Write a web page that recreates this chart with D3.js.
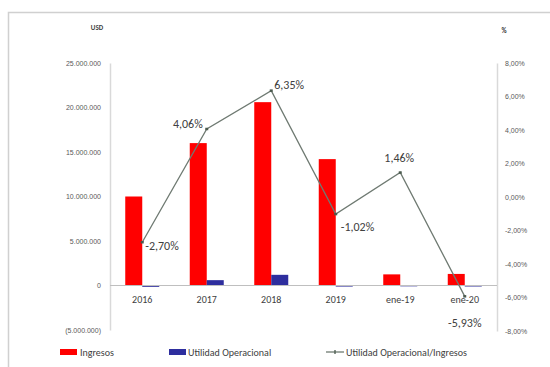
<!DOCTYPE html>
<html>
<head>
<meta charset="utf-8">
<script src="https://cdn.jsdelivr.net/npm/d3@7"></script>
<style>
  html, body { margin: 0; padding: 0; background: #fff; }
  svg { display: block; font-family: Calibri, "Liberation Sans", "Open Sans", sans-serif; }
</style>
</head>
<body>
<svg id="chart" width="550" height="367"></svg>
<script>
// Categories and series
const categories = ["2016", "2017", "2018", "2019", "ene-19", "ene-20"];
const ingresos = [10000000, 16000000, 20600000, 14200000, 1250000, 1300000];
const utilidad = [-150000, 600000, 1200000, -120000, 20000, -80000];
const margen = [-2.70, 4.06, 6.35, -1.02, 1.46, -5.93];
const leftTicks = [25000000, 20000000, 15000000, 10000000, 5000000, 0, -5000000];
const rightTicks = [8, 6, 4, 2, 0, -2, -4, -6, -8];

const svg = d3.select("#chart");

// Spanish-style number locale with an ASCII hyphen for negatives
const es = d3.formatLocale({ decimal: ",", thousands: ".", grouping: [3], currency: ["$", ""], minus: "-" });

// Outer frame
svg.append("rect").attr("x", 8.5).attr("y", 12.5).attr("width", 560).attr("height", 360)
  .attr("fill", "none").attr("stroke", "#d0d0d0").attr("stroke-width", 1.5);

const left = 110, right = 497;
const x = d3.scaleBand().domain(categories).range([left, right]);
const yL = d3.scaleLinear().domain([-5000000, 25000000]).range([330, 63]);
const yR = d3.scaleLinear().domain([-8, 8]).range([331, 63]);

const fmtN = v => v === 0 ? "0" : (v < 0 ? "(" + es.format(",")(-v) + ")" : es.format(",")(v));
const fmtP = v => es.format(".2f")(v) + "%";

// Left axis
const axL = svg.append("g").attr("transform", `translate(${left},0)`)
  .call(d3.axisLeft(yL).tickValues(leftTicks).tickFormat(fmtN).tickSize(0).tickPadding(9));
axL.select(".domain").attr("stroke", "#d9d9d9").attr("stroke-width", 1.5);
axL.selectAll("text").attr("fill", "#595959").style("font-size", "7px");

// Right axis
const axR = svg.append("g").attr("transform", `translate(${right},0)`)
  .call(d3.axisRight(yR).tickValues(rightTicks).tickFormat(fmtP).tickSize(0).tickPadding(8));
axR.select(".domain").attr("stroke", "#d9d9d9").attr("stroke-width", 1.5);
axR.selectAll("text").attr("fill", "#595959").style("font-size", "7px");

// Axis titles
svg.append("text").attr("x", 97).attr("y", 30).attr("text-anchor", "middle")
  .style("font-size", "7px").style("font-weight", "bold").attr("fill", "#404040").text("USD");
svg.append("text").attr("x", 504).attr("y", 33).attr("text-anchor", "middle")
  .style("font-size", "7px").style("font-weight", "bold").attr("fill", "#404040").text("%");

// Bars
const bw = 17;
svg.append("g").selectAll("rect").data(categories).join("rect")
  .attr("x", d => x(d) + x.bandwidth() / 2 - bw)
  .attr("y", (d, i) => yL(Math.max(0, ingresos[i])))
  .attr("width", bw)
  .attr("height", (d, i) => Math.abs(yL(ingresos[i]) - yL(0)))
  .attr("fill", "#ff0000");
svg.append("g").selectAll("rect").data(categories).join("rect")
  .attr("x", d => x(d) + x.bandwidth() / 2)
  .attr("y", (d, i) => yL(Math.max(0, utilidad[i])))
  .attr("width", bw)
  .attr("height", (d, i) => Math.max(1, Math.abs(yL(utilidad[i]) - yL(0))))
  .attr("fill", "#2e2e9e");

// Zero baseline
svg.append("line").attr("x1", left).attr("x2", right).attr("y1", yL(0)).attr("y2", yL(0))
  .attr("stroke", "#bfbfbf").attr("stroke-width", 1);

// Category labels
svg.append("g").selectAll("text").data(categories).join("text")
  .attr("x", d => x(d) + x.bandwidth() / 2).attr("y", 303)
  .attr("text-anchor", "middle").style("font-size", "10px").attr("fill", "#404040")
  .text(d => d);

// Ratio line
const cx = d => x(d) + x.bandwidth() / 2;
svg.append("path")
  .datum(categories)
  .attr("d", d3.line().x(d => cx(d)).y((d, i) => yR(margen[i])))
  .attr("fill", "none").attr("stroke", "#6f7a72").attr("stroke-width", 1.3);
svg.append("g").selectAll("line").data(categories).join("line")
  .attr("x1", d => cx(d) - 1.5).attr("x2", d => cx(d) + 1.5)
  .attr("y1", (d, i) => yR(margen[i])).attr("y2", (d, i) => yR(margen[i]))
  .attr("stroke", "#4a5a4e").attr("stroke-width", 2.5);

// Ratio labels
const lblOff = [[3, 8, "start"], [-4, -1, "end"], [3, -2, "start"], [5, 17, "start"], [-1, -11, "middle"], [0, 31, "middle"]];
svg.append("g").selectAll("text").data(categories).join("text")
  .attr("x", (d, i) => cx(d) + lblOff[i][0])
  .attr("y", (d, i) => yR(margen[i]) + lblOff[i][1])
  .attr("text-anchor", (d, i) => lblOff[i][2])
  .style("font-size", "12px").attr("fill", "#404040")
  .text((d, i) => fmtP(margen[i]));

// Legend
const lg = svg.append("g").style("font-size", "10px").attr("fill", "#404040");
lg.append("rect").attr("x", 60).attr("y", 349).attr("width", 17).attr("height", 6).attr("fill", "#ff0000");
lg.append("text").attr("x", 80).attr("y", 355.5).text("Ingresos");
lg.append("rect").attr("x", 169).attr("y", 349).attr("width", 17).attr("height", 6).attr("fill", "#2e2e9e");
lg.append("text").attr("x", 188).attr("y", 355.5).text("Utilidad Operacional");
lg.append("line").attr("x1", 326).attr("x2", 344).attr("y1", 352).attr("y2", 352)
  .attr("stroke", "#6f7a72").attr("stroke-width", 1.3);
lg.append("line").attr("x1", 335).attr("x2", 335).attr("y1", 350).attr("y2", 354)
  .attr("stroke", "#4a5a4e").attr("stroke-width", 1.3);
lg.append("text").attr("x", 346).attr("y", 355.5).text("Utilidad Operacional/Ingresos");
</script>
</body>
</html>
